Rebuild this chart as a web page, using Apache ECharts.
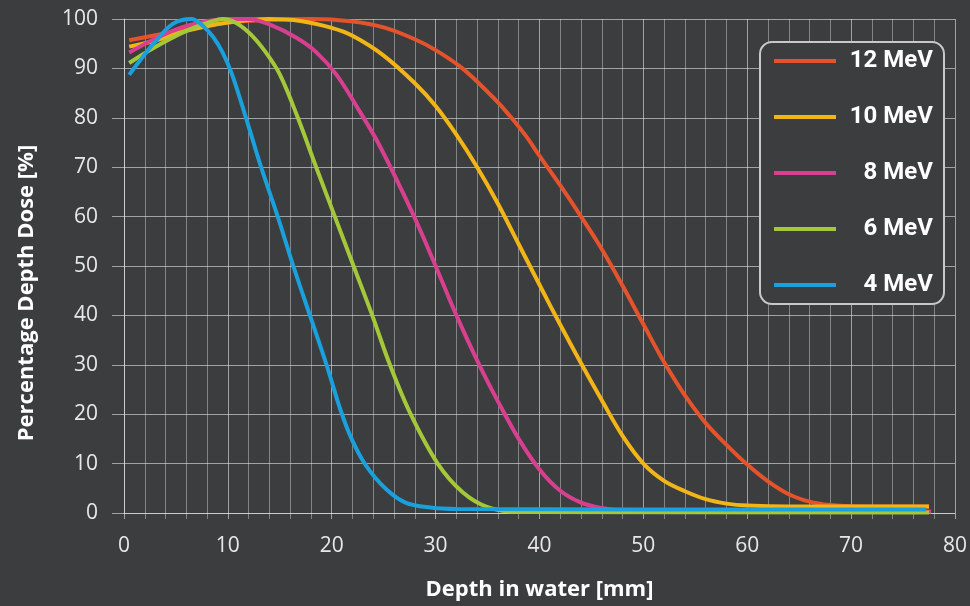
<!DOCTYPE html>
<html>
<head>
<meta charset="utf-8">
<title>Percentage Depth Dose</title>
<script src="https://cdn.jsdelivr.net/npm/echarts@6/dist/echarts.min.js"></script>
<style>
  html, body { margin: 0; padding: 0; background: #3b3d3f; }
  #chart { width: 970px; height: 606px; }
</style>
</head>
<body>
<div id="chart"></div>
<script>
// energies shown in the legend
var energies = ['12 MeV', '10 MeV', '8 MeV', '6 MeV', '4 MeV'];

// depth in water [mm] and dose [%]
var depth12 = [0.5, 3, 6, 10, 14, 18, 22, 25, 28, 30, 32.4, 34.4, 36.4, 38.6, 40, 42, 44, 46, 48, 50, 52, 54, 56, 58, 60, 62, 64, 66, 68, 70, 74, 77.5];
var dose12  = [95.7, 96.7, 97.9, 99.3, 99.8, 100, 99.5, 98.3, 95.9, 93.7, 90.3, 86.5, 82.2, 76.6, 72.3, 66.3, 60, 53.4, 46, 38.2, 30.5, 23.8, 18.2, 13.8, 9.8, 6.4, 3.8, 2.3, 1.6, 1.35, 1.3, 1.3];

var depth10 = [0.5, 3, 6, 10, 14, 17, 20, 22, 25, 28, 30, 32, 34, 36, 38, 40, 42, 44, 46, 48, 50, 52, 54, 56, 58, 60, 64, 77.5];
var dose10  = [94.4, 95.6, 97.6, 99.3, 100, 99.6, 98.2, 96.6, 92.6, 87, 82.4, 76.6, 70, 62.6, 54.4, 46.2, 38.1, 30.3, 22.8, 15.6, 10, 6.5, 4.4, 2.8, 1.9, 1.5, 1.3, 1.3];

var depth8 = [0.5, 3, 6, 10, 12, 14, 16.6, 18.5, 20.5, 22.6, 24.6, 27.8, 30, 32, 34.2, 36, 38, 40, 42, 44, 46, 48, 77.7];
var dose8  = [93.2, 96, 98.6, 100, 100, 98.9, 96.2, 93.3, 88.6, 81.6, 74.4, 60.6, 50, 40, 30, 22.6, 15, 8.8, 4.5, 2.1, 1, 0.5, 0.3];

var depth6 = [0.5, 2.8, 6, 8.6, 9.5, 10.8, 12.2, 13.6, 15, 16.7, 18.5, 20.3, 22.1, 23.9, 25.6, 27.6, 30.2, 32.6, 35, 38, 77.5];
var dose6  = [91.1, 94.1, 97.6, 99.6, 100, 99.2, 96.9, 93.4, 88.8, 80.2, 70, 60, 50, 40, 30, 20, 10, 4.2, 1.2, 0.2, 0.1];

var depth4 = [0.5, 1.5, 2.8, 4.7, 6.5, 7.6, 8.6, 9.5, 10.4, 11.7, 13.2, 14.8, 16.3, 17.9, 19.5, 20.9, 22, 23.3, 25.2, 27.1, 29.5, 32, 77.2];
var dose4  = [88.7, 91.5, 94.9, 99, 100, 98.6, 96.3, 93.2, 88.8, 80.3, 70, 60, 50, 40, 30, 20.5, 14.6, 9.6, 4.9, 2.1, 1.1, 0.8, 0.7];

var colors = ['#e4532c', '#f2b517', '#d8408f', '#a5c83a', '#1aa0dc'];

function pairs(xs, ys) {
  return xs.map(function (x, i) { return [x, ys[i]]; });
}

var curves = [
  pairs(depth12, dose12),
  pairs(depth10, dose10),
  pairs(depth8, dose8),
  pairs(depth6, dose6),
  pairs(depth4, dose4)
];

var gridColor = 'rgba(230,230,230,0.6)';
var minorColor = 'rgba(230,230,230,0.42)';
var labelFont = { color: '#e8e8e8', fontSize: 21, fontFamily: 'Open Sans' };

var chart = echarts.init(document.getElementById('chart'));

chart.setOption({
  backgroundColor: '#3b3d3f',
  animation: false,
  color: colors,
  grid: { left: 124, right: 13, top: 19, bottom: 92 },
  legend: {
    data: energies,
    orient: 'vertical',
    right: 26,
    top: 42,
    icon: 'rect',
    itemWidth: 62,
    itemHeight: 4,
    itemGap: 32,
    padding: [7, 11, 7, 14],
    backgroundColor: '#3b3d3f',
    borderColor: '#c8c8c8',
    borderWidth: 2,
    borderRadius: 12,
    formatter: '{n|{name}}',
    textStyle: {
      rich: {
        n: {
          width: 92,
          align: 'right',
          fontSize: 24,
          fontWeight: 'bold',
          fontFamily: 'Roboto',
          color: '#ffffff',
          lineHeight: 26
        }
      }
    }
  },
  xAxis: {
    type: 'value',
    min: 0,
    max: 80,
    interval: 10,
    name: 'Depth in water [mm]',
    nameLocation: 'middle',
    nameGap: 66,
    nameTextStyle: { color: '#ffffff', fontSize: 22, fontWeight: 'bold', fontFamily: 'Open Sans' },
    axisLine: { show: true, lineStyle: { color: gridColor, width: 1 } },
    axisTick: { show: true, length: 6, lineStyle: { color: gridColor } },
    minorTick: { show: true, splitNumber: 5, length: 6, lineStyle: { color: minorColor } },
    axisLabel: Object.assign({ margin: 23 }, labelFont),
    splitLine: { show: true, lineStyle: { color: gridColor, width: 1 } },
    minorSplitLine: { show: true, lineStyle: { color: minorColor, width: 1 } }
  },
  yAxis: {
    type: 'value',
    min: 0,
    max: 100,
    interval: 10,
    name: 'Percentage Depth Dose [%]',
    nameLocation: 'middle',
    nameGap: 86,
    nameTextStyle: { color: '#ffffff', fontSize: 22, fontWeight: 'bold', fontFamily: 'Open Sans', padding: [0, 54, 0, 0] },
    axisLine: { show: true, lineStyle: { color: gridColor, width: 1 } },
    axisTick: { show: true, length: 12, lineStyle: { color: gridColor } },
    axisLabel: Object.assign({ margin: 26 }, labelFont),
    splitLine: { show: true, lineStyle: { color: gridColor, width: 1 } }
  },
  series: energies.map(function (name, i) {
    return {
      name: name,
      type: 'line',
      data: curves[i],
      smooth: 0.35,
      showSymbol: false,
      lineStyle: { width: 4, color: colors[i] }
    };
  })
});
</script>
</body>
</html>
